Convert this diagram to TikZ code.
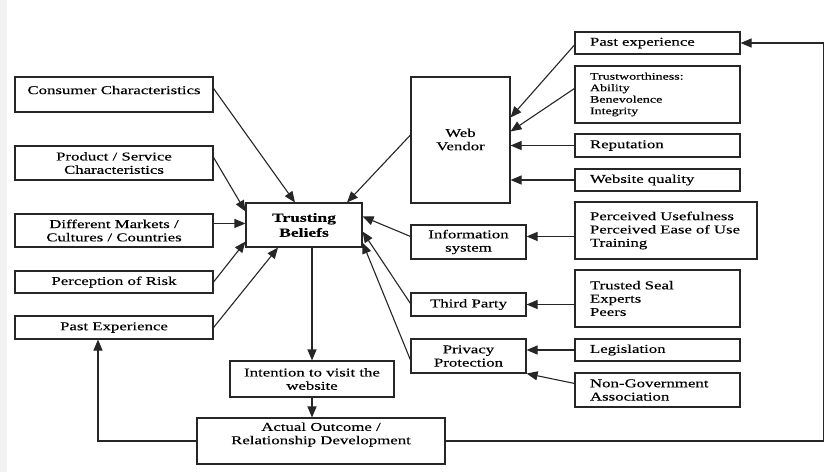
\documentclass[tikz,border=0pt]{standalone}
\usepackage{fontspec}
\setmainfont{Liberation Serif}[FakeStretch=1.4,FakeBold=0.3]
\usetikzlibrary{arrows.meta,calc}

% box from its corners: name, x1, y1, x2, y2, extra options; the text follows
\newcommand{\cornerbox}[6]{%
  \node[box,#6,minimum width={#4-#2},minimum height={#5-#3}] (#1)
    at ({(#2+#4)/2},{(#3+#5)/2})}
% left-aligned box
\newcommand{\leftbox}[6]{%
  \node[box,align=left,inner xsep=15pt,text width={#4-#2-30},
        minimum height={#5-#3},#6] (#1)
    at ({(#2+#4)/2},{(#3+#5)/2})}

\tikzset{
  box/.style={draw=black!85,line width=1.1pt,inner ysep=1pt,align=center,
              font=\fontsize{12}{13.3}\selectfont,text=black},
  small/.style={font=\fontsize{10}{11.5}\selectfont},
  heading/.style={font=\fontsize{12.5}{15}\selectfont\bfseries},
  arr/.style={draw=black!85,line width=1.1pt,
              -{Triangle[length=11pt,width=9pt]}},
}

\begin{document}
\begin{tikzpicture}[x=1pt,y=-1pt]
\useasboundingbox (0,0) rectangle (832,472);
\fill[white] (0,0) rectangle (832,472);
\fill[black!5] (0,0) rectangle (7,472);

% influences on the trusting beliefs (left column)
\cornerbox{cc}{15}{77}{213}{112}{}{};
\node[font=\fontsize{12}{13.3}\selectfont] (cctext) at (114,90) {Consumer Characteristics};
\cornerbox{ps}{15}{146}{213}{180}{}{Product / Service\\Characteristics};
\cornerbox{dm}{15}{214}{213}{247}{}{Different Markets /\\Cultures / Countries};
\cornerbox{pr}{15}{271}{213}{293}{}{Perception of Risk};
\cornerbox{pe}{15}{316}{213}{339}{}{Past Experience};

% central chain
\cornerbox{tb}{246}{203}{362}{247}{heading}{Trusting\\Beliefs};
\cornerbox{iv}{230}{361}{394}{397}{}{Intention to visit the\\website};
\cornerbox{ao}{197}{418}{445}{464}{}{Actual Outcome /\\Relationship Development\\[2pt]};

% middle column
\cornerbox{wv}{411}{77}{510}{203}{}{\\[-6pt]Web\\Vendor};
\cornerbox{is}{411}{225}{526}{259}{}{Information\\system};
\cornerbox{tp}{411}{293}{526}{316}{}{Third Party};
\cornerbox{pp}{411}{339}{526}{373}{}{Privacy\\Protection};

% right column
\leftbox{pex}{575}{32}{740}{54}{}{Past experience};
\leftbox{tw}{575}{66}{740}{123}{small}{Trustworthiness:\\Ability\\Benevolence\\Integrity};
\leftbox{rep}{575}{134}{740}{157}{}{Reputation};
\leftbox{wq}{575}{169}{740}{191}{}{Website quality};
\leftbox{pu}{575}{202}{757}{259}{}{Perceived Usefulness\\Perceived Ease of Use\\Training\\[3pt]};
\leftbox{ts}{575}{270}{740}{327}{}{Trusted Seal\\Experts\\Peers\\[3pt]};
\leftbox{leg}{575}{339}{740}{361}{}{Legislation};
\leftbox{ng}{575}{373}{740}{407}{}{Non-Government\\Association};

% arrows into the trusting beliefs
\draw[arr] ([yshift=-12pt]cc.north east) -- ([xshift=-9pt]tb.north);
\draw[arr] ([yshift=-12pt]ps.north east) -- ([yshift=-9pt]tb.north west);
\draw[arr] ([yshift=-10pt]dm.north east) -- ([yshift=-21pt]tb.north west);
\draw[arr] (pr.east) -- ([yshift=6pt]tb.south west);
\draw[arr] (pe.east) -- ([xshift=-26pt]tb.south);
\draw[arr] ([yshift=5pt]wv.west) -- ([xshift=43pt]tb.north);
\draw[arr] ([yshift=-12pt]is.north west) -- ([yshift=-14pt]tb.north east);
\draw[arr] ([yshift=1pt]tp.west) -- ([yshift=-29pt]tb.north east);
\draw[arr] ([yshift=-4pt]pp.west) -- ([yshift=5pt]tb.south east);

% arrows into the middle column
\draw[arr] ([yshift=-2pt]pex.west) -- ([yshift=-41pt]wv.north east);
\draw[arr] ([yshift=-23pt]tw.north west) -- ([yshift=-55pt]wv.north east);
\draw[arr] (rep.west) -- (wv.east |- rep.west);
\draw[arr] (wq.west) -- (wv.east |- wq.west);
\coordinate (puin) at ([yshift=-35pt]pu.north west);
\draw[arr] (puin) -- (is.east |- puin);
\draw[arr] (ts.west |- tp.east) -- (tp.east);
\draw[arr] (leg.west) -- (pp.east |- leg.west);
\draw[arr] ([yshift=-11pt]ng.north west) -- (pp.south east);

% central chain and feedback loops
\draw[arr] (tb.south -| iv.north) -- (iv.north);
\draw[arr] (iv.south) -- (ao.north -| iv.south);
\draw[arr] (ao.east) -- ++(378,0) |- (pex.east);
\draw[arr] (ao.west) -| ([xshift=-16pt]pe.south);
\end{tikzpicture}
\end{document}
